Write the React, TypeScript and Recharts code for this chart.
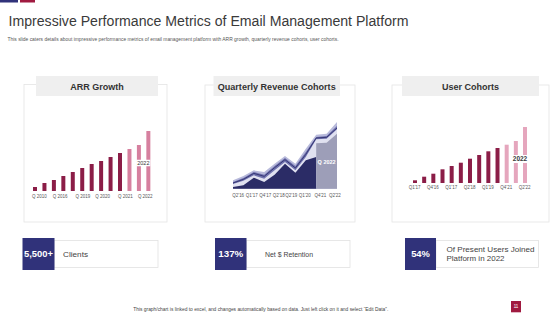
import React from 'react';
import { BarChart, Bar, XAxis, YAxis, Cell, ComposedChart, Area, Line, ReferenceDot } from 'recharts';

// ---------- DATA ----------
const arrCategories = ['B1', 'B2', 'B3', 'B4', 'B5', 'B6', 'B7', 'B8', 'B9', 'B10', 'B11', 'B12', 'B13'];
const arrValues = [4, 8, 11, 15, 19, 23, 27, 30, 34, 38, 42, 46, 60];
const arrTickPositions = [0.5, 2.7, 5.1, 7.2, 9.6, 11.7];
const arrTickLabels = ['Q 2010', 'Q 2016', 'Q 2019', 'Q 2020', 'Q 2021', 'Q 2022'];
const arrHighlightFrom = 10;

const userCategories = ['U1', 'U2', 'U3', 'U4', 'U5', 'U6', 'U7', 'U8', 'U9', 'U10', 'U11', 'U12', 'U13'];
const userValues = [2.7, 6.3, 9.3, 13.7, 17, 20.3, 24.3, 28, 31.7, 35, 38.3, 42, 56];
const userTickPositions = [0, 2, 4, 6, 8, 10, 12];
const userTickLabels = ["Q1'17", "Q4'16", "Q1'17", "Q2'18", "Q1'19", "Q4'21", "Q2'22"];
const userHighlightFrom = 10;

const cohortPoints = ['C1', 'C2', 'C3', 'C4', 'C5', 'C6', 'C7', 'C8', 'C9', 'C10', 'C11'];
const cohortLavender = [25, 38, 55, 50, 75, 98, 75, 120, 162, 165, 200];
const cohortMid = [20, 32, 50, 42, 68, 92, 68, 110, 155, 158, 188];
const cohortLine = [17, 28, 46, 37, 63, 87, 62, 103, 152, 154, 182];
const cohortPale = [14, 24, 40, 30, 55, 80, 55, 95, 148, 150, 178];
const cohortNavy = [5, 10, 33, 20, 42, 75, 48, 85, 95, null, null];
const cohortGray = [null, null, null, null, null, null, null, null, 136, 138, 165];
const cohortTickPositions = [0.5, 1.8, 3.1, 4.4, 5.6, 6.9, 8.4, 9.8];
const cohortTickLabels = ["Q2'16", "Q1'17", "Q4'17", "Q2'18", "Q2'19", "Q1'20", "Q4'21", "Q2'22"];

// ---------- STYLE ----------
const NAVY = '#30327a';
const RED = '#a01a40';
const BAR_DARK = '#8b1d47';
const ARR_LIGHT = '#d6809f';
const USER_LIGHT = '#e5a6bd';
const FONT = '"Liberation Sans", Arial, sans-serif';

const arrData = arrCategories.map((c, i) => ({ name: c, i, v: arrValues[i] }));
const userData = userCategories.map((c, i) => ({ name: c, i, v: userValues[i] }));
const cohortData = cohortPoints.map((c, i) => ({
  name: c,
  i,
  lav: cohortLavender[i],
  mid: cohortMid[i],
  line: cohortLine[i],
  pale: cohortPale[i],
  navy: cohortNavy[i],
  gray: cohortGray[i],
}));

const labelFor = (positions: number[], labels: string[]) => (v: number) => {
  const k = positions.findIndex((p) => Math.abs(p - v) < 1e-6);
  return k >= 0 ? labels[k] : '';
};

const M = { top: 5, right: 10, bottom: 0, left: 10 };

function Badge(props: any) {
  const { cx, cy, w, h, text, fs, weight } = props;
  if (cx == null || cy == null) return null;
  return (
    <g>
      <rect x={cx - w / 2} y={cy - h / 2} width={w} height={h} fill="#ffffff" />
      <text x={cx} y={cy} textAnchor="middle" dominantBaseline="central" fontSize={fs} fontWeight={weight} fill="#3a3a3a" fontFamily={FONT}>
        {text}
      </text>
    </g>
  );
}

function ArrChart() {
  return (
    <BarChart width={142.8} height={87} data={arrData} margin={M}>
      <XAxis
        xAxisId="lab"
        type="number"
        dataKey="i"
        domain={[-0.5, 12.5]}
        allowDataOverflow
        ticks={arrTickPositions}
        interval={0}
        tickFormatter={labelFor(arrTickPositions, arrTickLabels)}
        axisLine={false}
        tickLine={false}
        tickSize={0}
        tickMargin={3.4}
        height={12}
        tick={{ fontSize: 4.5, fill: '#555', fontFamily: FONT }}
      />
      <XAxis dataKey="name" hide height={0} />
      <YAxis hide domain={[0, 70]} />
      <Bar dataKey="v" barSize={4} isAnimationActive={false}>
        {arrData.map((d, i) => (
          <Cell key={i} fill={i >= arrHighlightFrom ? ARR_LIGHT : BAR_DARK} />
        ))}
      </Bar>
      <ReferenceDot
        xAxisId="lab"
        x={11.5}
        y={28}
        r={0}
        shape={(p: any) => <Badge {...p} w={14} h={6.5} text="2022" fs={5.5} weight={400} />}
      />
    </BarChart>
  );
}

function UserChart() {
  return (
    <BarChart width={139.2} height={87} data={userData} margin={M}>
      <XAxis
        xAxisId="lab"
        type="number"
        dataKey="i"
        domain={[-0.5, 12.5]}
        allowDataOverflow
        ticks={userTickPositions}
        interval={0}
        tickFormatter={labelFor(userTickPositions, userTickLabels)}
        axisLine={false}
        tickLine={false}
        tickSize={0}
        tickMargin={2.9}
        height={12}
        tick={{ fontSize: 4.5, fill: '#555', fontFamily: FONT }}
      />
      <XAxis dataKey="name" hide height={0} />
      <YAxis hide domain={[0, 70]} />
      <Bar dataKey="v" barSize={4} isAnimationActive={false}>
        {userData.map((d, i) => (
          <Cell key={i} fill={i >= userHighlightFrom ? USER_LIGHT : BAR_DARK} />
        ))}
      </Bar>
      <ReferenceDot
        xAxisId="lab"
        x={11.5}
        y={24}
        r={0}
        shape={(p: any) => <Badge {...p} w={18} h={8} text="2022" fs={6.5} weight={700} />}
      />
    </BarChart>
  );
}

function CohortChart() {
  return (
    <ComposedChart width={124} height={83.7} data={cohortData} margin={M}>
      <XAxis
        type="number"
        dataKey="i"
        domain={[0, 10]}
        allowDataOverflow
        ticks={cohortTickPositions}
        interval={0}
        tickFormatter={labelFor(cohortTickPositions, cohortTickLabels)}
        axisLine={false}
        tickLine={false}
        tickSize={0}
        tickMargin={5.1}
        height={12}
        tick={{ fontSize: 4.5, fill: '#555', fontFamily: FONT }}
      />
      <YAxis hide domain={[0, 200]} />
      <Area type="linear" dataKey="lav" stroke="none" fill="#b8badb" fillOpacity={1} isAnimationActive={false} />
      <Area type="linear" dataKey="mid" stroke="none" fill="#7173ae" fillOpacity={1} isAnimationActive={false} />
      <Line type="linear" dataKey="line" stroke="#2f306e" strokeWidth={0.9} dot={false} isAnimationActive={false} />
      <Area type="linear" dataKey="pale" stroke="none" fill="#e0e1f0" fillOpacity={1} isAnimationActive={false} />
      <Area type="linear" dataKey="navy" stroke="none" fill="#2b2c66" fillOpacity={1} isAnimationActive={false} />
      <Area type="linear" dataKey="gray" stroke="none" fill="#9d9eb8" fillOpacity={1} isAnimationActive={false} />
      <ReferenceDot
        x={9}
        y={80}
        r={0}
        shape={(p: any) =>
          p.cx == null ? null : (
            <text x={p.cx} y={p.cy} textAnchor="middle" dominantBaseline="central" fontSize={5.5} fontWeight={700} fill="#ffffff" fontFamily={FONT}>
              Q 2022
            </text>
          )
        }
      />
    </ComposedChart>
  );
}

export default function App() {
  return (
    <div style={{ position: 'absolute', left: 0, top: 0, width: 560, height: 315, background: '#ffffff', fontFamily: FONT, overflow: 'hidden' }}>
      <svg width={560} height={315} style={{ position: 'absolute', left: 0, top: 0 }} fontFamily={FONT}>
        <rect x={0} y={0} width={18} height={2.5} fill={NAVY} />
        <rect x={20} y={0} width={15} height={2.5} fill={RED} />
        <text x={8.5} y={26} fontSize={15.4} fill="#3a3a3a" textLength={400} lengthAdjust="spacingAndGlyphs">
          Impressive Performance Metrics of Email Management Platform
        </text>
        <text x={7.5} y={40.5} fontSize={4.7} fill="#555" textLength={331} lengthAdjust="spacingAndGlyphs">
          This slide caters details about impressive performance metrics of email management platform with ARR growth, quarterly revenue cohorts, user cohorts.
        </text>

        {/* panels */}
        <rect x={24} y={84.5} width={143} height={137.5} fill="#fff" stroke="#e4e4e4" strokeWidth={0.8} />
        <rect x={36} y={76} width={122} height={20} fill="#efefef" />
        <text x={97} y={90} textAnchor="middle" fontSize={9} fontWeight={700} fill="#333">ARR Growth</text>

        <rect x={205} y={85} width={150} height={137} fill="#fff" stroke="#e4e4e4" strokeWidth={0.8} />
        <rect x={213.5} y={76} width={126.5} height={20} fill="#efefef" />
        <text x={276.7} y={90} textAnchor="middle" fontSize={9} fontWeight={700} fill="#333" textLength={118} lengthAdjust="spacingAndGlyphs">
          Quarterly  Revenue Cohorts
        </text>

        <rect x={392} y={85} width={157} height={137} fill="#fff" stroke="#e4e4e4" strokeWidth={0.8} />
        <rect x={402} y={76} width={137} height={20} fill="#efefef" />
        <text x={470.5} y={90} textAnchor="middle" fontSize={9} fontWeight={700} fill="#333">User Cohorts</text>

        {/* stat boxes */}
        <rect x={54} y={240.5} width={104} height={27} fill="#fff" stroke="#e2e2e2" strokeWidth={0.8} />
        <rect x={22.5} y={238} width={32} height={32} fill={NAVY} />
        <text x={38.5} y={257.3} textAnchor="middle" fontSize={9.3} fontWeight={700} fill="#fff" textLength={29} lengthAdjust="spacingAndGlyphs">5,500+</text>
        <text x={63} y={256.8} fontSize={7.5} fill="#444" textLength={25} lengthAdjust="spacingAndGlyphs">Clients</text>

        <rect x={246.5} y={240.5} width={103.5} height={27} fill="#fff" stroke="#e2e2e2" strokeWidth={0.8} />
        <rect x={215} y={238} width={31.5} height={32} fill={NAVY} />
        <text x={230.8} y={257.3} textAnchor="middle" fontSize={9.3} fontWeight={700} fill="#fff" textLength={25} lengthAdjust="spacingAndGlyphs">137%</text>
        <text x={265} y={256.8} fontSize={7.5} fill="#444" textLength={48} lengthAdjust="spacingAndGlyphs">Net $ Retention</text>

        <rect x={436} y={240.5} width={102.5} height={27} fill="#fff" stroke="#e2e2e2" strokeWidth={0.8} />
        <rect x={405} y={238} width={31} height={32} fill={NAVY} />
        <text x={420.5} y={257.3} textAnchor="middle" fontSize={9.3} fontWeight={700} fill="#fff" textLength={18.7} lengthAdjust="spacingAndGlyphs">54%</text>
        <text x={446.5} y={251.6} fontSize={7.5} fill="#444" textLength={88} lengthAdjust="spacingAndGlyphs">Of Present Users Joined</text>
        <text x={446.5} y={261} fontSize={7.5} fill="#444" textLength={58} lengthAdjust="spacingAndGlyphs">Platform in 2022</text>

        {/* footer */}
        <text x={133.3} y={310.8} fontSize={4.8} fill="#444" textLength={255} lengthAdjust="spacingAndGlyphs">
          This graph/chart is linked to excel, and changes automatically based on data. Just left click on it and select “Edit Data”.
        </text>
        <rect x={511} y={301} width={10} height={11.3} fill={RED} />
        <text x={516} y={308.3} textAnchor="middle" fontSize={4.5} fill="#fff">11</text>
      </svg>

      <div style={{ position: 'absolute', left: 19.6, top: 116 }}>
        <ArrChart />
      </div>
      <div style={{ position: 'absolute', left: 223, top: 116.6 }}>
        <CohortChart />
      </div>
      <div style={{ position: 'absolute', left: 400.4, top: 108 }}>
        <UserChart />
      </div>
    </div>
  );
}
